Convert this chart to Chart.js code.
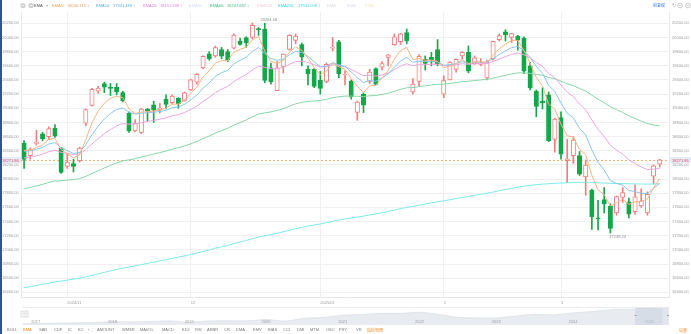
<!DOCTYPE html>
<html>
<head>
<meta charset="utf-8">
<script src="https://cdn.jsdelivr.net/npm/chart.js@4.4.1/dist/chart.umd.min.js"></script>
<style>
  html, body { margin: 0; padding: 0; background: #fff; }
  #wrap { position: relative; width: 691px; height: 334px; overflow: hidden; }
  #main { position: absolute; left: 0; top: 0; }
  #nav { position: absolute; left: 22px; top: 307px; }
  #edge { position: absolute; left: 0; top: 0; width: 2px; height: 334px; background: #34518f; }
</style>
</head>
<body>
<div id="wrap">
  <canvas id="main" width="691" height="334"></canvas>
  <canvas id="nav" width="647" height="18"></canvas>
  <div id="edge"></div>
</div>
<script>
// daily candles
const dates = [
  '2024-10-23','2024-10-24','2024-10-25','2024-10-28','2024-10-29','2024-10-30','2024-10-31',
  '2024-11-01','2024-11-04','2024-11-05','2024-11-06','2024-11-07','2024-11-08','2024-11-11','2024-11-12','2024-11-13','2024-11-14',
  '2024-11-15','2024-11-18','2024-11-19','2024-11-20','2024-11-21','2024-11-22','2024-11-25','2024-11-26','2024-11-27','2024-11-29',
  '2024-12-02','2024-12-03','2024-12-04','2024-12-05','2024-12-06','2024-12-09','2024-12-10','2024-12-11','2024-12-12','2024-12-13',
  '2024-12-16','2024-12-17','2024-12-18','2024-12-19','2024-12-20','2024-12-23','2024-12-24','2024-12-26','2024-12-27','2024-12-30','2024-12-31',
  '2025-01-02','2025-01-03','2025-01-06','2025-01-07','2025-01-08','2025-01-10','2025-01-13','2025-01-14','2025-01-15','2025-01-16',
  '2025-01-17','2025-01-21','2025-01-22','2025-01-23','2025-01-24','2025-01-27','2025-01-28','2025-01-29','2025-01-30','2025-01-31',
  '2025-02-03','2025-02-04','2025-02-05','2025-02-06','2025-02-07','2025-02-10','2025-02-11','2025-02-12','2025-02-13','2025-02-14',
  '2025-02-18','2025-02-19','2025-02-20','2025-02-21','2025-02-24','2025-02-25','2025-02-26','2025-02-27','2025-02-28',
  '2025-03-03','2025-03-04','2025-03-05','2025-03-06','2025-03-07','2025-03-10','2025-03-11','2025-03-12','2025-03-13','2025-03-14',
  '2025-03-17','2025-03-18','2025-03-19','2025-03-20','2025-03-21','2025-03-24','2025-03-25'
];
const opens = [
  18510,18330,18505,18640,18600,18720,18440,18180,18220,18260,18790,19040,19240,19350,19300,19300,19220,18930,18680,18660,
  18990,19050,18980,19130,19080,19140,19110,19260,19370,19570,19770,19740,19830,19800,19850,19950,20000,20000,20125,20120,
  19570,19250,19590,19830,19960,19900,19550,19550,19400,19380,19850,19940,19470,19380,18940,19200,19380,19560,19580,19720,
  19900,19940,20070,19230,19380,19690,19720,19830,19200,19400,19550,19740,19790,19630,19620,19430,19700,19970,20080,20000,
  20020,19990,19600,19240,19100,19190,18560,18870,18260,18330,18330,18030,17840,17452,17710,17620,17520,17740,17680,17540,
  17620,17520,18040,18210
];
const highs = [
  18545,18440,18690,18660,18740,18770,18450,18360,18280,18450,18990,19280,19310,19370,19350,19350,19240,18950,18840,19000,
  19000,19100,19070,19190,19190,19150,19230,19410,19490,19740,19800,19880,19860,19830,20050,19990,20010,20204.58,20140,20200,
  19640,19660,19770,20040,20050,19920,19600,19560,19520,19640,20000,19960,19530,19400,19100,19220,19550,19570,19660,19760,
  20050,20060,20120,19420,19760,19740,19790,19970,19460,19660,19700,19800,19880,19740,19700,19680,19950,20050,20110,20060,
  20030,20010,19650,19260,19290,19230,18860,18950,18560,18600,18390,18270,17860,17700,17880,17650,17760,17880,17730,17920,
  17860,17820,18200,18280
];
const lows = [
  18150,18280,18480,18540,18560,18590,18080,18150,18100,18240,18750,19030,19210,19220,19180,19190,19090,18660,18670,18640,
  18820,18800,18930,18990,19060,19000,19100,19250,19340,19560,19680,19720,19700,19660,19840,19890,19860,19980,20030,19360,
  19340,19250,19500,19820,19910,19600,19330,19290,19200,19360,19810,19430,19330,19130,18830,18940,19350,19330,19540,19600,
  19890,19900,19910,19200,19320,19540,19600,19600,19150,19400,19510,19690,19500,19620,19600,19400,19680,19950,19950,19930,
  19820,19490,19260,18880,18990,18530,18380,18280,17950,18220,18050,17770,17290,17280,17520,17238.24,17490,17670,17450,17500,
  17600,17490,17930,18170
];
const closes = [
  18276,18415,18518,18567,18712,18607,18095,18239,18179,18439,18983,19269,19286,19298,19281,19230,19107,18680,18791,18987,
  18966,18972,19003,19054,19174,19060,19218,19403,19480,19735,19700,19859,19736,19687,20034,19902,19926,20173,20109,19392,
  19372,19572,19764,20031,20020,19722,19486,19310,19280,19621,19864,19489,19478,19161,19088,19044,19511,19338,19630,19756,
  20009,20053,19954,19341,19733,19632,19681,19627,19391,19654,19692,19791,19523,19714,19643,19649,19945,20026,20041,20056,
  19962,19524,19286,19026,19075,18544,18847,18350,18285,18552,18069,18196,17468,17436,17648,17303,17754,17808,17504,17750,
  17691,17784,18188,18271.86
];

// moving averages
const ema5 = [
  18405,18408,18445,18486,18561,18576,18416,18357,18298,18345,18558,18795,18959,19072,19142,19171,19150,18993,18926,18946,
  18953,18959,18974,19001,19059,19059,19112,19209,19299,19444,19529,19639,19671,19676,19795,19831,19863,19966,20014,19807,
  19662,19632,19676,19794,19869,19820,19709,19576,19477,19525,19638,19588,19551,19421,19310,19221,19318,19325,19427,19537,
  19694,19814,19861,19688,19703,19679,19680,19662,19572,19599,19630,19684,19630,19658,19653,19652,19750,19842,19908,19957,
  19959,19814,19638,19434,19314,19057,18987,18775,18612,18592,18418,18344,18052,17847,17781,17622,17666,17713,17643,17679,
  17683,17717,17874,18007
];
const ema10 = [
  18394,18398,18420,18447,18495,18515,18439,18403,18362,18376,18486,18628,18748,18848,18927,18982,19005,18946,18918,18930,
  18937,18943,18954,18972,19009,19018,19054,19118,19184,19284,19360,19451,19503,19536,19627,19677,19722,19804,19860,19775,
  19702,19678,19694,19755,19803,19788,19733,19656,19588,19594,19643,19615,19590,19512,19435,19364,19391,19381,19426,19486,
  19581,19667,19719,19650,19665,19659,19663,19656,19608,19616,19630,19659,19634,19649,19648,19648,19702,19761,19812,19856,
  19875,19811,19716,19590,19496,19323,19236,19075,18931,18862,18718,18623,18413,18235,18128,17978,17937,17914,17839,17823,
  17799,17796,17867,17941
];
const ema20 = [
  18298,18309,18329,18352,18386,18407,18377,18364,18346,18355,18415,18496,18571,18640,18701,18751,18785,18775,18777,18797,
  18813,18828,18845,18865,18894,18910,18939,18983,19030,19097,19154,19221,19270,19310,19379,19429,19476,19542,19596,19577,
  19557,19558,19578,19621,19659,19665,19648,19616,19584,19588,19614,19602,19590,19549,19505,19461,19466,19454,19471,19498,
  19547,19595,19629,19602,19614,19616,19622,19622,19600,19605,19613,19630,19620,19629,19630,19632,19662,19697,19730,19761,
  19780,19756,19711,19646,19592,19492,19431,19328,19229,19165,19061,18979,18835,18702,18602,18478,18409,18352,18271,18221,
  18171,18134,18139,18152
];
const ema60 = [
  17864,17882,17903,17925,17951,17972,17976,17985,17991,18006,18038,18078,18118,18157,18194,18228,18257,18271,18288,18311,
  18332,18353,18374,18396,18422,18443,18468,18499,18531,18571,18608,18649,18685,18718,18761,18798,18835,18879,18919,18935,
  18949,18969,18995,19029,19062,19084,19097,19104,19110,19127,19151,19162,19172,19172,19169,19165,19176,19181,19196,19214,
  19240,19267,19290,19292,19306,19317,19329,19339,19341,19351,19362,19376,19381,19392,19400,19408,19426,19446,19465,19484,
  19500,19501,19494,19479,19466,19436,19417,19382,19346,19320,19279,19243,19185,19128,19079,19021,18979,18941,18894,18856,
  18818,18784,18764,18748
];
const ema250 = [
  16465,16480,16496,16513,16530,16547,16559,16573,16585,16600,16619,16640,16661,16682,16703,16723,16742,16758,16774,16791,
  16809,16826,16843,16861,16879,16897,16915,16935,16955,16977,16999,17022,17043,17064,17088,17110,17133,17157,17181,17198,
  17216,17234,17255,17277,17299,17318,17335,17351,17366,17384,17404,17421,17437,17451,17464,17476,17493,17507,17524,17542,
  17562,17581,17600,17614,17631,17647,17663,17679,17693,17708,17724,17741,17755,17770,17785,17800,17817,17835,17852,17870,
  17887,17900,17911,17920,17929,17934,17941,17944,17947,17952,17953,17955,17951,17947,17944,17939,17938,17937,17933,17932,
  17930,17929,17931,17934
];

// price axis ticks
const yTicks = [16400,16600,16800,17000,17200,17400,17600,17800,18000,18200,18400,18600,18800,19000,19200,19400,19600,19800,20000,20200];

// legend strip
const legendNames  = ['EMA5', 'EMA10', 'EMA20', 'EMA30', 'EMA60', 'EMA120', 'EMA250', 'EMA', 'EMA', 'EMA'];
const legendValues = ['18006.715', '17941.484', '18151.538', '', '18747.687', '', '17933.058', '', '', ''];
const indicatorTabs = ['BOLL', 'EMA', 'SAR', 'CDP', 'IC', 'KC', '›', 'AMOUNT', 'WMSR', 'MAVOL', 'MACD', 'KDJ', 'RSI',
  'ARBR', 'CR', 'DMA', 'EMV', 'BIAS', 'CCI', 'DMI', 'MTM', 'OSC', 'PSY', 'VR', '指标管理'];

// overview strip (long history)
const navDates = ['2016-11','2017-01','2017-04','2017-07','2017-10','2018-01','2018-04','2018-07','2018-10','2019-01',
  '2019-04','2019-07','2019-10','2020-01','2020-04','2020-07','2020-10','2021-01','2021-04','2021-07','2021-10','2022-01',
  '2022-04','2022-07','2022-10','2023-01','2023-04','2023-07','2023-10','2024-01','2024-04','2024-07','2024-10','2025-01','2025-03'];
const navValues = [5320,5610,5910,6140,6500,7100,7070,7510,7900,6700,7830,8080,7950,9150,7700,10200,11100,13000,13700,14500,
  14500,15600,13700,11100,10600,10500,12200,13800,13300,15000,16300,17900,18300,19300,18270];

const FONT = '"Liberation Sans", Arial, sans-serif';
const CJK = '"Noto Sans CJK SC", sans-serif';
const RED = '#ef7f7f', GREEN = '#16a64a';
const YMIN = 16334, YMAX = 20360;
const lastPrice = closes[closes.length - 1];
const isUp = closes.map((c, i) => c >= opens[i]);

function monthTick(i) {
  if (i <= 0 || i >= dates.length) return null;
  const [y, m] = dates[i].split('-');
  const [py, pm] = dates[i - 1].split('-');
  if (m === pm) return null;
  let firstStart = 1;
  while (dates[firstStart].slice(5, 7) === dates[firstStart - 1].slice(5, 7)) firstStart++;
  if (i === firstStart || y !== py) return y + '/' + m;
  return String(+m);
}

function txt(ctx, s, x, y, color, size, align, family) {
  ctx.font = size + 'px ' + (family || FONT);
  ctx.fillStyle = color;
  ctx.textAlign = align || 'left';
  ctx.textBaseline = 'middle';
  ctx.fillText(s, x, y);
}

const overlay = {
  id: 'overlay',
  beforeDatasetsDraw(chart) {
    const { ctx, chartArea: a, scales: { y } } = chart;
    const py = Math.round(y.getPixelForValue(lastPrice)) + 0.5;
    ctx.save();
    ctx.strokeStyle = '#f5b373';
    ctx.lineWidth = 1;
    ctx.setLineDash([2, 2]);
    ctx.beginPath(); ctx.moveTo(a.left, py); ctx.lineTo(a.right, py); ctx.stroke();
    ctx.restore();
  },
  afterDraw(chart) {
    const { ctx, chartArea: a, scales: { x, y } } = chart;
    ctx.save();
    // last price boxes on both axes
    const py = Math.round(y.getPixelForValue(lastPrice));
    ctx.fillStyle = '#e4ecfa';
    ctx.fillRect(0, py - 3, a.left, 6);
    ctx.fillRect(a.right + 1, py - 3, chart.width - a.right - 1, 6);
    txt(ctx, lastPrice.toFixed(2), 2, py + 0.5, '#e5484d', 4);
    txt(ctx, lastPrice.toFixed(2), a.right + 3, py + 0.5, '#e5484d', 4);

    // highest / lowest marks
    let hi = 0, lo = 0;
    highs.forEach((v, i) => { if (v > highs[hi]) hi = i; });
    lows.forEach((v, i) => { if (v < lows[lo]) lo = i; });
    txt(ctx, highs[hi].toFixed(2), x.getPixelForValue(hi) + 8, y.getPixelForValue(highs[hi]) - 3, '#8a8a8a', 4);
    txt(ctx, lows[lo].toFixed(2), x.getPixelForValue(lo) - 1, y.getPixelForValue(lows[lo]) + 4, '#8a8a8a', 4);

    // top legend strip
    const ly = 5.5;
    [23, 31].forEach(cx => {
      ctx.beginPath(); ctx.arc(cx, ly, 2.6, 0, Math.PI * 2);
      ctx.fillStyle = '#cfcfcf'; ctx.fill();
      ctx.fillStyle = '#fff'; ctx.fillRect(cx - 1, ly - 0.4, 2, 0.8);
    });
    txt(ctx, 'EMA', 34, ly, '#555', 4);
    txt(ctx, '▾', 46, ly, '#aaa', 4);
    const lColors = ['#f3a052', '#57ace2', '#e27fd6', '#d6dcf4', '#40bd7c', '#f6cfd6', '#3fd4d4', '#dedede', '#e6d6f4', '#f8e6c6'];
    const lx = [52, 96, 143, 189, 210, 257, 278, 327, 347, 365];
    const vx = [67, 113, 160, 0, 227, 0, 298, 0, 0, 0];
    const series = [ema5, ema10, ema20, null, ema60, null, ema250];
    legendNames.forEach((n, i) => {
      if (legendValues[i]) {
        txt(ctx, n + ':', lx[i], ly, lColors[i], 4);
        txt(ctx, legendValues[i], vx[i], ly, lColors[i], 4);
        const s = series[i];
        const rising = s[s.length - 1] >= s[s.length - 2];
        txt(ctx, rising ? '↑' : '↓', vx[i] + 20, ly, rising ? '#e5484d' : '#16a64a', 4);
      } else {
        txt(ctx, n, lx[i], ly, lColors[i], 4);
      }
    });
    txt(ctx, '前复权', 653, ly, '#3a78e0', 4, 'left', CJK);
    txt(ctx, '↻', 672, ly, '#aaa', 5);
    [680, 688].forEach(cx => {
      ctx.beginPath(); ctx.arc(cx, ly, 2.4, 0, Math.PI * 2);
      ctx.strokeStyle = '#b5b5b5'; ctx.lineWidth = 0.7; ctx.stroke();
      ctx.fillStyle = '#b5b5b5'; ctx.fillRect(cx - 1.2, ly - 0.3, 2.4, 0.6);
    });

    // overview button
    ctx.fillStyle = '#f4f4f4'; ctx.fillRect(21, 311, 7, 6);
    ctx.strokeStyle = '#cfcfcf'; ctx.lineWidth = 0.6; ctx.strokeRect(21, 311, 7, 6);
    txt(ctx, '···', 24.5, 313.5, '#888', 4, 'center');

    // indicator tabs
    const tx = [7, 23, 39, 54, 68, 78, 88, 97, 122, 140, 162, 182, 195, 207, 224, 236, 253, 268, 283, 297, 310, 326, 339, 356, 367];
    indicatorTabs.forEach((t, i) => {
      const orange = t === 'EMA' || t === '指标管理';
      txt(ctx, t, tx[i], 330, orange ? '#f08a24' : '#777', 4, 'left', /[^\x00-\x7f›]/.test(t) ? CJK : FONT);
    });
    ctx.fillStyle = '#dddddd'; ctx.fillRect(92.5, 328, 0.6, 4);
    txt(ctx, '设置', 679, 330, '#f08a24', 4, 'left', CJK);
    ctx.restore();
  }
};

const lineSet = (data, color) => ({
  type: 'line', data, borderColor: color, borderWidth: 1, pointRadius: 0,
  fill: false, order: 0, yAxisID: 'y'
});

const priceTicks = {
  stepSize: 200, font: { size: 4, family: FONT }, color: '#999',
  callback: v => v.toFixed(2)
};

new Chart(document.getElementById('main'), {
  type: 'bar',
  data: {
    labels: dates.concat(['']),
    datasets: [
      lineSet(ema5, '#f7b582'),
      lineSet(ema10, '#86c6ee'),
      lineSet(ema20, '#eca5e2'),
      lineSet(ema60, '#86d7a6'),
      lineSet(ema250, '#7ceaea'),
      {
        type: 'bar', data: opens.map((o, i) => [o, closes[i]]),
        backgroundColor: isUp.map(u => u ? '#ffffff' : GREEN),
        borderColor: isUp.map(u => u ? RED : GREEN),
        borderWidth: 1, borderSkipped: false, barThickness: 4.4, grouped: false, order: 1, yAxisID: 'y'
      },
      {
        type: 'bar', data: lows.map((l, i) => [l, highs[i]]),
        backgroundColor: isUp.map(u => u ? RED : GREEN),
        borderWidth: 0, barThickness: 1, grouped: false, order: 2, yAxisID: 'y'
      }
    ]
  },
  options: {
    responsive: false,
    animation: false,
    devicePixelRatio: 1,
    events: [],
    layout: { padding: { top: 12, left: 2, right: 0, bottom: 27 } },
    plugins: { legend: { display: false }, tooltip: { enabled: false } },
    scales: {
      x: {
        type: 'category', offset: true,
        grid: { offset: false, color: '#f0f0f0', drawTicks: false },
        border: { color: '#e8e8e8' },
        ticks: {
          autoSkip: false, maxRotation: 0, align: 'start', padding: 3,
          font: { size: 4, family: FONT }, color: '#999',
          callback: (v, i) => monthTick(i)
        },
        afterFit: s => { s.height = 10; }
      },
      y: {
        position: 'left', min: YMIN, max: YMAX,
        grid: { color: '#f0f0f0', drawTicks: false },
        border: { color: '#e8e8e8' },
        ticks: Object.assign({ crossAlign: 'far', padding: 0 }, priceTicks),
        afterBuildTicks: s => { s.ticks = yTicks.map(v => ({ value: v })); },
        afterFit: s => { s.width = 19; }
      },
      yR: {
        position: 'right', min: YMIN, max: YMAX,
        grid: { display: false, drawTicks: false },
        border: { color: '#e8e8e8' },
        ticks: Object.assign({ padding: 3 }, priceTicks),
        afterBuildTicks: s => { s.ticks = yTicks.map(v => ({ value: v })); },
        afterFit: s => { s.width = 22; }
      }
    }
  },
  plugins: [overlay]
});

// overview strip
const toYear = s => {
  const p = s.split('-');
  return +p[0] + (+p[1] - 1) / 12 + (p[2] ? (+p[2] - 1) / 365 : 0);
};
const navOverlay = {
  id: 'navOverlay',
  afterDraw(chart) {
    const { ctx, scales: { x } } = chart;
    ctx.save();
    ctx.fillStyle = '#e8e8e8'; ctx.fillRect(0, 0, chart.width, 0.8);
    const years = [...new Set(navDates.map(d => d.slice(0, 4)))].slice(1);
    years.forEach(yr => {
      const px = Math.max(10, x.getPixelForValue(+yr));
      txt(ctx, yr, px, 15, '#9a9a9a', 4, 'center');
    });
    const x0 = x.getPixelForValue(toYear(dates[0]));
    ctx.fillStyle = 'rgba(196,206,220,0.5)';
    ctx.fillRect(x0, 0.8, chart.width - x0, 17);
    ctx.fillStyle = '#8d8d8d';
    ctx.fillRect(x0 - 0.5, 8, 1.5, 1);
    ctx.fillRect(chart.width - 2, 8, 1.5, 1);
    ctx.restore();
  }
};
new Chart(document.getElementById('nav'), {
  type: 'line',
  data: {
    datasets: [{
      data: navDates.map((d, i) => ({ x: toYear(d), y: navValues[i] })),
      borderColor: '#dbe0e7', borderWidth: 0.8, backgroundColor: '#e8ecf1',
      fill: 'start', pointRadius: 0, tension: 0.2
    }]
  },
  options: {
    responsive: false, animation: false, devicePixelRatio: 1, events: [],
    layout: { padding: 0 },
    plugins: { legend: { display: false }, tooltip: { enabled: false } },
    scales: {
      x: { type: 'linear', min: 2016.82, max: 2025.25, display: false },
      y: { min: 4300, max: 20300, display: false }
    }
  },
  plugins: [navOverlay]
});
</script>
</body>
</html>
